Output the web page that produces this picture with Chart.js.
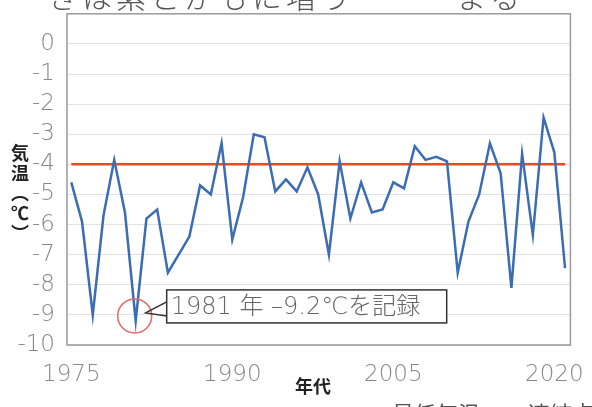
<!DOCTYPE html>
<html>
<head>
<meta charset="utf-8">
<script src="https://cdn.jsdelivr.net/npm/chart.js@4.4.1/dist/chart.umd.min.js"></script>
<style>
  html, body { margin:0; padding:0; background:#fff; overflow:hidden; }
  #wrap { position:relative; width:592px; height:407px; }
  #chart { position:absolute; left:0; top:0; }
  .lbl { position:absolute; font-family:"Noto Sans CJK JP", sans-serif; color:#222; white-space:nowrap; }
  #ttl { left:48px; top:-27px; font-size:30px; letter-spacing:4px; color:#555; font-weight:300; }
  #ytitle { left:10px; top:142px; font-size:18px; font-weight:bold; line-height:20px; text-align:center; width:20px; }
  #xtitle { left:295px; top:372px; font-size:18px; font-weight:bold; }
  #legend { left:366px; top:396px; font-size:22px; color:#555; }
  #legend i { display:inline-block; width:18px; height:3px; vertical-align:middle; margin-right:8px; }
</style>
</head>
<body>
<div id="wrap">
  <canvas id="chart" width="592" height="407"></canvas>
  <div class="lbl" id="ttl">きは紫とかもに増う　　　まる</div>
  <div class="lbl" id="ytitle">気<br>温<br>︵<br>℃<br>︶</div>
  <div class="lbl" id="xtitle">年代</div>
  <div class="lbl" id="legend"><i style="background:#f3e27a"></i>最低気温　<i style="background:#c9d6e8"></i>連結点</div>
</div>
<script>
// 年ごとの最低気温 (℃)
const years = [1975,1976,1977,1978,1979,1980,1981,1982,1983,1984,1985,1986,1987,1988,1989,1990,
  1991,1992,1993,1994,1995,1996,1997,1998,1999,2000,2001,2002,2003,2004,2005,2006,2007,2008,
  2009,2010,2011,2012,2013,2014,2015,2016,2017,2018,2019,2020,2021];
const minTemps = [-4.6,-5.9,-9.0,-5.7,-3.85,-5.6,-9.2,-5.8,-5.5,-7.6,-7.0,-6.4,-4.7,-5.0,-3.3,-6.5,
  -5.1,-3.0,-3.1,-4.9,-4.5,-4.9,-4.1,-5.0,-7.0,-3.9,-5.8,-4.6,-5.6,-5.5,-4.6,-4.8,-3.4,-3.85,
  -3.75,-3.9,-7.6,-5.9,-5.0,-3.3,-4.3,-8.1,-3.65,-6.35,-2.45,-3.6,-7.45];
const refYears = [1975, 2021];
const refValue = [-4, -4];
const xTicks = [1975, 1990, 2005, 2020];
const yTicks = [0,-1,-2,-3,-4,-5,-6,-7,-8,-9,-10];
const noteYear = 1981, noteValue = -9.2;
const noteText = "1981 年 –9.2℃を記録";

const tickFont = { family: "'DejaVu Sans', 'Noto Sans CJK JP', sans-serif", size: 23, weight: 200 };

// 枠線と注記
const extras = {
  id: "extras",
  beforeDatasetsDraw(chart) {
    const { ctx, chartArea: a } = chart;
    ctx.save();
    ctx.strokeStyle = "#9a9a9a";
    ctx.lineWidth = 1.5;
    ctx.strokeRect(a.left, a.top, a.right - a.left, a.bottom - a.top);
    ctx.restore();
  },
  afterDatasetsDraw(chart) {
    const { ctx, scales: { x, y } } = chart;
    const px = x.getPixelForValue(noteYear);
    const py = y.getPixelForValue(noteValue);
    ctx.save();
    ctx.strokeStyle = "#e36a6a";
    ctx.lineWidth = 1.5;
    ctx.beginPath();
    ctx.arc(px - 1, py - 5, 17, 0, Math.PI * 2);
    ctx.stroke();

    const bx = px + 31, by = py - 31, bw = 280, bh = 33;
    ctx.fillStyle = "#fff";
    ctx.fillRect(bx, by, bw, bh);
    ctx.strokeStyle = "#333";
    ctx.lineWidth = 1.5;
    ctx.strokeRect(bx, by, bw, bh);
    ctx.beginPath();
    ctx.moveTo(bx, by + 12);
    ctx.lineTo(px + 10, py - 8);
    ctx.lineTo(bx, by + 26);
    ctx.stroke();

    ctx.fillStyle = "#666";
    ctx.font = "200 24px 'DejaVu Sans', 'Noto Sans CJK JP', sans-serif";
    ctx.textBaseline = "middle";
    ctx.fillText(noteText, bx + 4, by + bh / 2 + 1);
    ctx.restore();
  }
};

new Chart(document.getElementById("chart"), {
  type: "line",
  data: {
    datasets: [
      {
        label: "最低気温",
        data: years.map((yr, i) => ({ x: yr, y: minTemps[i] })),
        borderColor: "#3b6cb4",
        borderWidth: 2.5,
        pointRadius: 0,
        tension: 0
      },
      {
        label: "基準",
        data: refYears.map((yr, i) => ({ x: yr, y: refValue[i] })),
        borderColor: "#ea4a1e",
        borderWidth: 2.5,
        pointRadius: 0
      }
    ]
  },
  options: {
    responsive: false,
    animation: false,
    layout: { padding: { top: 2, right: 13, left: 0, bottom: 0 } },
    plugins: { legend: { display: false }, tooltip: { enabled: false } },
    scales: {
      x: {
        type: "linear",
        min: 1974.6,
        max: 2021.5,
        afterBuildTicks: s => { s.ticks = xTicks.map(v => ({ value: v })); },
        afterFit: s => { s.height = 62; },
        grid: { display: false },
        border: { display: false },
        ticks: { font: tickFont, color: "#888", padding: 8, maxRotation: 0, callback: v => String(v) }
      },
      y: {
        min: -10,
        max: 1,
        afterBuildTicks: s => { s.ticks = yTicks.map(v => ({ value: v })); },
        afterFit: s => { s.width = 67; },
        grid: { color: "#e2e2e2", drawTicks: true, tickLength: 12, tickColor: "rgba(0,0,0,0)" },
        border: { display: false },
        ticks: { font: tickFont, color: "#888", padding: 0, callback: v => String(v) }
      }
    }
  },
  plugins: [extras]
});
</script>
</body>
</html>
